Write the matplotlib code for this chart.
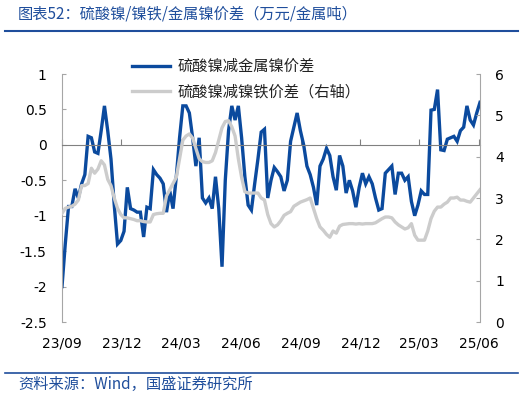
import matplotlib
matplotlib.use('Agg')
import matplotlib.pyplot as plt
import matplotlib.dates as mdates
from matplotlib.lines import Line2D
from matplotlib.ticker import FuncFormatter
from matplotlib.transforms import blended_transform_factory
import pandas as pd

plt.rcParams['font.family'] = ['DejaVu Sans', 'Noto Sans CJK SC']
plt.rcParams['axes.unicode_minus'] = False

CJK = ['Noto Sans CJK SC', 'DejaVu Sans']
BLUE = '#0b4a9e'
GRAY = '#cccccc'
TITLE_BLUE = '#1f4e9c'

dates = pd.date_range('2023-09-01', periods=129, freq='5D')

# 硫酸镍减金属镍价差 (left axis)
metal_spread = [
    -2.0, -1.4, -0.87, -0.87, -0.62, -0.75, -0.55, -0.42, 0.12, 0.1,
    -0.1, -0.12, 0.2, 0.55, 0.2, -0.2, -0.85, -1.4, -1.35, -1.22,
    -0.6, -0.9, -0.92, -0.95, -0.95, -1.3, -0.88, -0.9, -0.35, -0.42,
    -0.47, -0.55, -0.95, -0.65, -0.9, -0.45, 0.1, 0.55, 0.55, 0.45,
    0.1, -0.3, 0.1, -0.75, -0.82, -0.75, -0.9, -0.45, -0.9, -1.72,
    -0.5, 0.2, 0.55, 0.35, 0.55, 0.1, -0.45, -0.85, -0.92, -0.55,
    -0.2, 0.18, 0.22, -0.75, -0.5, -0.32, -0.38, -0.45, -0.65, -0.5,
    0.05, 0.25, 0.45, 0.2, 0.0, -0.3, -0.42, -0.6, -0.85, -0.3,
    -0.2, -0.05, -0.15, -0.45, -0.64, -0.15, -0.3, -0.68, -0.5, -0.65,
    -0.88, -0.6, -0.4, -0.55, -0.45, -0.55, -0.75, -0.92, -0.9, -0.4,
    -0.35, -0.3, -0.7, -0.4, -0.4, -0.5, -0.45, -0.8, -1.0, -0.85,
    -0.65, -0.7, -0.7, 0.49, 0.5, 0.78, -0.07, -0.08, 0.08, 0.1,
    0.12, 0.05, 0.2, 0.25, 0.55, 0.35, 0.28, 0.45, 0.6,
]

# 硫酸镍减镍铁价差 (right axis)
ferro_spread = [
    2.63, 2.75, 2.78, 2.8, 2.85, 2.95, 3.3, 3.3, 3.35, 3.72,
    3.6, 3.7, 3.9, 3.8, 3.45, 3.3, 3.0, 2.75, 2.6, 2.52,
    2.52, 2.5, 2.48, 2.45, 2.45, 2.43, 2.42, 2.42, 2.6, 2.62,
    2.63, 2.63, 3.05, 3.2, 3.35, 3.5, 3.95, 4.4, 4.5, 4.55,
    4.45, 4.2, 3.95, 3.88, 3.86, 3.86, 3.9, 4.1, 4.4, 4.7,
    4.85, 4.87, 4.72, 4.5, 3.95, 3.5, 3.15, 3.12, 3.12, 3.12,
    3.12, 3.0, 2.95, 2.6, 2.38, 2.3, 2.35, 2.45, 2.58, 2.63,
    2.67, 2.8, 2.85, 2.9, 2.93, 2.96, 3.0, 2.75, 2.5, 2.3,
    2.22, 2.12, 2.05, 2.2, 2.15, 2.32, 2.36, 2.37, 2.38, 2.38,
    2.37, 2.38, 2.37, 2.38, 2.38, 2.38, 2.4, 2.45, 2.5, 2.54,
    2.54, 2.52, 2.42, 2.35, 2.3, 2.25, 2.28, 2.38, 2.1, 1.98,
    1.98, 1.98, 2.2, 2.5, 2.68, 2.78, 2.78, 2.85, 2.9, 3.0,
    3.0, 3.02, 2.95, 2.95, 2.92, 2.9, 3.0, 3.1, 3.2,
]

left_ticks = [1, 0.5, 0, -0.5, -1, -1.5, -2, -2.5]
right_ticks = [0, 1, 2, 3, 4, 5, 6]
tick_dates = pd.date_range('2023-09-01', '2025-06-01', freq='3MS')
tick_labels = [d.strftime('%y/%m') for d in tick_dates]

labels = ['硫酸镍减金属镍价差', '硫酸镍减镍铁价差（右轴）']
title = '图表52：硫酸镍/镍铁/金属镍价差（万元/金属吨）'
source = '资料来源：Wind，国盛证券研究所'

fig = plt.figure(figsize=(5.25, 3.98), dpi=100)
ax = fig.add_axes([62 / 525, 76 / 398, 418 / 525, 248 / 398])
ax2 = ax.twinx()

l1, = ax.plot(dates, metal_spread, color=BLUE, lw=2.4, solid_joinstyle='miter')
l2, = ax2.plot(dates, ferro_spread, color=GRAY, lw=2.4)

ax.set_xlim(dates[0], dates[-1])
ax.set_ylim(-2.5, 1)
ax2.set_ylim(0, 6)
ax.set_yticks(left_ticks)
ax2.set_yticks(right_ticks)
fmt = FuncFormatter(lambda v, p: '{:g}'.format(v))
ax.yaxis.set_major_formatter(fmt)
ax2.yaxis.set_major_formatter(fmt)

ax.spines['top'].set_visible(False)
ax.spines['right'].set_visible(False)
ax.spines['bottom'].set_position(('data', 0))
ax.spines['bottom'].set_color('#808080')
ax.spines['left'].set_color('#a6a6a6')
for s in ['top', 'left', 'bottom']:
    ax2.spines[s].set_visible(False)
ax2.spines['right'].set_color('#a6a6a6')

ax.set_xticks(tick_dates)
ax.tick_params(axis='x', direction='in', length=4, color='#808080', labelbottom=False)
ax.tick_params(axis='y', direction='in', length=3, color='#a6a6a6', pad=11, labelsize=10)
ax2.tick_params(axis='y', direction='in', length=3, color='#a6a6a6', pad=11, labelsize=10)

trans = blended_transform_factory(ax.transData, ax.transAxes)
for d, lab in zip(tick_dates, tick_labels):
    ax.text(mdates.date2num(d), -0.085, lab, transform=trans, ha='center', va='center', fontsize=10)

fig.legend([l1, l2], labels, loc='upper left', bbox_to_anchor=(132 / 525, 1 - 58 / 398),
           frameon=False, prop={'family': CJK, 'size': 11}, handlelength=2.5,
           handletextpad=0.45, labelspacing=0.55, borderaxespad=0, borderpad=0,
           labelcolor='#222222')

fig.text(18 / 525, 1 - 14 / 398, title, color=TITLE_BLUE, fontsize=11, va='center',
         family=CJK, style='italic')
fig.add_artist(Line2D([5 / 525, 518 / 525], [1 - 31 / 398] * 2, color=TITLE_BLUE, lw=1.5))
fig.add_artist(Line2D([5 / 525, 518 / 525], [1 - 373 / 398] * 2, color=TITLE_BLUE, lw=1.2))
fig.text(18 / 525, 1 - 384 / 398, source, color=TITLE_BLUE, fontsize=11, va='center',
         family=CJK, style='italic')

fig.savefig('out.png', dpi=100)
